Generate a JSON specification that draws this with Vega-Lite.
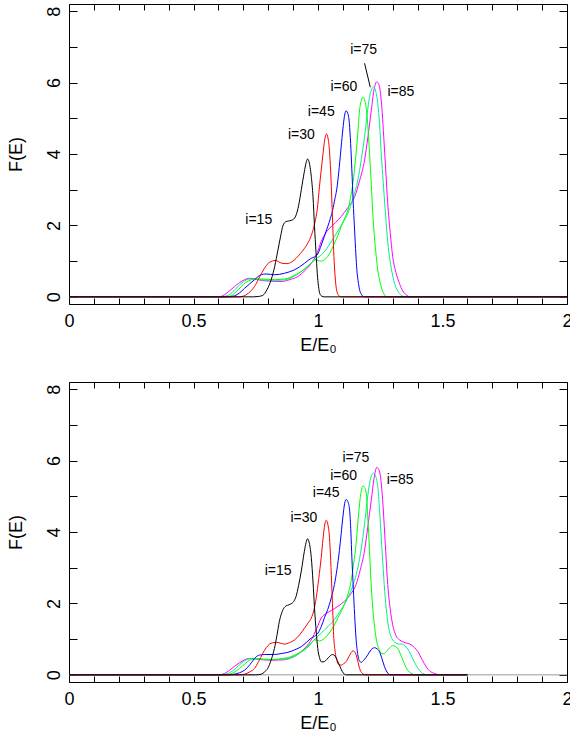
{
"$schema":"https://vega.github.io/schema/vega-lite/v6.json",
"padding":{"left":6,"top":3,"right":0,"bottom":0},
"spacing":78,
"bounds":"flush",
"config":{"view":{"stroke":"black","strokeWidth":1},"font":"Liberation Sans",
"axis":{"labelFont":"Liberation Sans","titleFont":"Liberation Sans","labelFontSize":18,"titleFontSize":18,"titleFontWeight":"normal","labelColor":"black","titleColor":"black","tickColor":"black","tickWidth":1,"ticks":true,"grid":false,"domain":false}},
"datasets":{
"curves":[
{"p":"a","s":"85","E":0,"F":0},{"p":"a","s":"85","E":0.6,"F":0},{"p":"a","s":"85","E":0.625,"F":0.06},{"p":"a","s":"85","E":0.645,"F":0.17},{"p":"a","s":"85","E":0.665,"F":0.29},{"p":"a","s":"85","E":0.685,"F":0.4},{"p":"a","s":"85","E":0.705,"F":0.48},{"p":"a","s":"85","E":0.725,"F":0.52},{"p":"a","s":"85","E":0.75,"F":0.5},{"p":"a","s":"85","E":0.772,"F":0.46},{"p":"a","s":"85","E":0.81,"F":0.44},{"p":"a","s":"85","E":0.852,"F":0.43},{"p":"a","s":"85","E":0.885,"F":0.48},{"p":"a","s":"85","E":0.919,"F":0.57},{"p":"a","s":"85","E":0.945,"F":0.72},{"p":"a","s":"85","E":0.973,"F":0.94},{"p":"a","s":"85","E":0.995,"F":1.2},{"p":"a","s":"85","E":1.013,"F":1.55},{"p":"a","s":"85","E":1.03,"F":1.78},{"p":"a","s":"85","E":1.046,"F":1.92},{"p":"a","s":"85","E":1.07,"F":2.08},{"p":"a","s":"85","E":1.093,"F":2.25},{"p":"a","s":"85","E":1.12,"F":2.5},{"p":"a","s":"85","E":1.147,"F":2.8},{"p":"a","s":"85","E":1.167,"F":3.25},{"p":"a","s":"85","E":1.187,"F":3.83},{"p":"a","s":"85","E":1.2,"F":4.45},{"p":"a","s":"85","E":1.214,"F":5.23},{"p":"a","s":"85","E":1.225,"F":5.8},{"p":"a","s":"85","E":1.236,"F":6.02},{"p":"a","s":"85","E":1.244,"F":5.95},{"p":"a","s":"85","E":1.251,"F":5.7},{"p":"a","s":"85","E":1.258,"F":5.15},{"p":"a","s":"85","E":1.264,"F":4.48},{"p":"a","s":"85","E":1.272,"F":3.55},{"p":"a","s":"85","E":1.28,"F":2.62},{"p":"a","s":"85","E":1.29,"F":1.8},{"p":"a","s":"85","E":1.3,"F":1.13},{"p":"a","s":"85","E":1.313,"F":0.68},{"p":"a","s":"85","E":1.327,"F":0.38},{"p":"a","s":"85","E":1.34,"F":0.17},{"p":"a","s":"85","E":1.354,"F":0.06},{"p":"a","s":"85","E":1.37,"F":0},{"p":"a","s":"85","E":2,"F":0},
{"p":"a","s":"75","E":0,"F":0},{"p":"a","s":"75","E":0.61,"F":0},{"p":"a","s":"75","E":0.635,"F":0.03},{"p":"a","s":"75","E":0.655,"F":0.12},{"p":"a","s":"75","E":0.68,"F":0.3},{"p":"a","s":"75","E":0.7,"F":0.42},{"p":"a","s":"75","E":0.725,"F":0.5},{"p":"a","s":"75","E":0.75,"F":0.5},{"p":"a","s":"75","E":0.78,"F":0.47},{"p":"a","s":"75","E":0.82,"F":0.46},{"p":"a","s":"75","E":0.86,"F":0.47},{"p":"a","s":"75","E":0.9,"F":0.56},{"p":"a","s":"75","E":0.94,"F":0.75},{"p":"a","s":"75","E":0.973,"F":0.95},{"p":"a","s":"75","E":0.995,"F":1.08},{"p":"a","s":"75","E":1.013,"F":1.17},{"p":"a","s":"75","E":1.04,"F":1.4},{"p":"a","s":"75","E":1.066,"F":1.69},{"p":"a","s":"75","E":1.093,"F":2.0},{"p":"a","s":"75","E":1.12,"F":2.34},{"p":"a","s":"75","E":1.14,"F":2.75},{"p":"a","s":"75","E":1.16,"F":3.27},{"p":"a","s":"75","E":1.174,"F":3.85},{"p":"a","s":"75","E":1.187,"F":4.48},{"p":"a","s":"75","E":1.197,"F":5.1},{"p":"a","s":"75","E":1.207,"F":5.6},{"p":"a","s":"75","E":1.215,"F":5.8},{"p":"a","s":"75","E":1.224,"F":5.88},{"p":"a","s":"75","E":1.232,"F":5.75},{"p":"a","s":"75","E":1.24,"F":5.42},{"p":"a","s":"75","E":1.247,"F":4.85},{"p":"a","s":"75","E":1.254,"F":4.02},{"p":"a","s":"75","E":1.262,"F":3.2},{"p":"a","s":"75","E":1.27,"F":2.43},{"p":"a","s":"75","E":1.278,"F":1.7},{"p":"a","s":"75","E":1.287,"F":1.13},{"p":"a","s":"75","E":1.297,"F":0.7},{"p":"a","s":"75","E":1.307,"F":0.38},{"p":"a","s":"75","E":1.32,"F":0.17},{"p":"a","s":"75","E":1.334,"F":0.05},{"p":"a","s":"75","E":1.35,"F":0},{"p":"a","s":"75","E":2,"F":0},
{"p":"a","s":"60","E":0,"F":0},{"p":"a","s":"60","E":0.625,"F":0},{"p":"a","s":"60","E":0.651,"F":0.03},{"p":"a","s":"60","E":0.67,"F":0.13},{"p":"a","s":"60","E":0.692,"F":0.29},{"p":"a","s":"60","E":0.71,"F":0.4},{"p":"a","s":"60","E":0.732,"F":0.48},{"p":"a","s":"60","E":0.752,"F":0.5},{"p":"a","s":"60","E":0.772,"F":0.5},{"p":"a","s":"60","E":0.8,"F":0.49},{"p":"a","s":"60","E":0.825,"F":0.48},{"p":"a","s":"60","E":0.852,"F":0.49},{"p":"a","s":"60","E":0.879,"F":0.52},{"p":"a","s":"60","E":0.905,"F":0.6},{"p":"a","s":"60","E":0.933,"F":0.71},{"p":"a","s":"60","E":0.955,"F":0.83},{"p":"a","s":"60","E":0.973,"F":0.95},{"p":"a","s":"60","E":0.986,"F":1.04},{"p":"a","s":"60","E":1.0,"F":1.02},{"p":"a","s":"60","E":1.013,"F":1.0},{"p":"a","s":"60","E":1.026,"F":1.04},{"p":"a","s":"60","E":1.039,"F":1.13},{"p":"a","s":"60","E":1.053,"F":1.3},{"p":"a","s":"60","E":1.066,"F":1.5},{"p":"a","s":"60","E":1.08,"F":1.72},{"p":"a","s":"60","E":1.093,"F":1.97},{"p":"a","s":"60","E":1.107,"F":2.2},{"p":"a","s":"60","E":1.12,"F":2.43},{"p":"a","s":"60","E":1.13,"F":2.75},{"p":"a","s":"60","E":1.14,"F":3.18},{"p":"a","s":"60","E":1.147,"F":3.6},{"p":"a","s":"60","E":1.153,"F":4.02},{"p":"a","s":"60","E":1.16,"F":4.6},{"p":"a","s":"60","E":1.167,"F":5.23},{"p":"a","s":"60","E":1.174,"F":5.5},{"p":"a","s":"60","E":1.181,"F":5.59},{"p":"a","s":"60","E":1.187,"F":5.52},{"p":"a","s":"60","E":1.193,"F":5.32},{"p":"a","s":"60","E":1.2,"F":4.8},{"p":"a","s":"60","E":1.207,"F":4.02},{"p":"a","s":"60","E":1.214,"F":3.15},{"p":"a","s":"60","E":1.22,"F":2.34},{"p":"a","s":"60","E":1.227,"F":1.65},{"p":"a","s":"60","E":1.234,"F":1.13},{"p":"a","s":"60","E":1.24,"F":0.75},{"p":"a","s":"60","E":1.247,"F":0.48},{"p":"a","s":"60","E":1.254,"F":0.28},{"p":"a","s":"60","E":1.26,"F":0.15},{"p":"a","s":"60","E":1.268,"F":0.05},{"p":"a","s":"60","E":1.278,"F":0},{"p":"a","s":"60","E":2,"F":0},
{"p":"a","s":"45","E":0,"F":0},{"p":"a","s":"45","E":0.64,"F":0},{"p":"a","s":"45","E":0.665,"F":0.03},{"p":"a","s":"45","E":0.685,"F":0.11},{"p":"a","s":"45","E":0.705,"F":0.24},{"p":"a","s":"45","E":0.725,"F":0.36},{"p":"a","s":"45","E":0.745,"F":0.48},{"p":"a","s":"45","E":0.76,"F":0.57},{"p":"a","s":"45","E":0.772,"F":0.62},{"p":"a","s":"45","E":0.792,"F":0.64},{"p":"a","s":"45","E":0.81,"F":0.63},{"p":"a","s":"45","E":0.825,"F":0.62},{"p":"a","s":"45","E":0.845,"F":0.63},{"p":"a","s":"45","E":0.865,"F":0.66},{"p":"a","s":"45","E":0.885,"F":0.7},{"p":"a","s":"45","E":0.906,"F":0.76},{"p":"a","s":"45","E":0.926,"F":0.84},{"p":"a","s":"45","E":0.946,"F":0.94},{"p":"a","s":"45","E":0.96,"F":1.02},{"p":"a","s":"45","E":0.973,"F":1.08},{"p":"a","s":"45","E":0.986,"F":1.12},{"p":"a","s":"45","E":0.999,"F":1.2},{"p":"a","s":"45","E":1.013,"F":1.45},{"p":"a","s":"45","E":1.026,"F":1.7},{"p":"a","s":"45","E":1.039,"F":1.97},{"p":"a","s":"45","E":1.05,"F":2.2},{"p":"a","s":"45","E":1.059,"F":2.43},{"p":"a","s":"45","E":1.068,"F":2.75},{"p":"a","s":"45","E":1.075,"F":3.0},{"p":"a","s":"45","E":1.08,"F":3.27},{"p":"a","s":"45","E":1.087,"F":3.75},{"p":"a","s":"45","E":1.093,"F":4.2},{"p":"a","s":"45","E":1.1,"F":4.7},{"p":"a","s":"45","E":1.106,"F":5.05},{"p":"a","s":"45","E":1.113,"F":5.21},{"p":"a","s":"45","E":1.119,"F":5.15},{"p":"a","s":"45","E":1.126,"F":4.86},{"p":"a","s":"45","E":1.131,"F":4.3},{"p":"a","s":"45","E":1.136,"F":3.55},{"p":"a","s":"45","E":1.141,"F":2.7},{"p":"a","s":"45","E":1.147,"F":1.87},{"p":"a","s":"45","E":1.152,"F":1.2},{"p":"a","s":"45","E":1.156,"F":0.76},{"p":"a","s":"45","E":1.161,"F":0.45},{"p":"a","s":"45","E":1.167,"F":0.2},{"p":"a","s":"45","E":1.174,"F":0.07},{"p":"a","s":"45","E":1.183,"F":0.01},{"p":"a","s":"45","E":1.19,"F":0},{"p":"a","s":"45","E":2,"F":0},
{"p":"a","s":"30","E":0,"F":0},{"p":"a","s":"30","E":0.68,"F":0},{"p":"a","s":"30","E":0.7,"F":0.02},{"p":"a","s":"30","E":0.72,"F":0.1},{"p":"a","s":"30","E":0.745,"F":0.29},{"p":"a","s":"30","E":0.765,"F":0.55},{"p":"a","s":"30","E":0.785,"F":0.8},{"p":"a","s":"30","E":0.8,"F":0.94},{"p":"a","s":"30","E":0.815,"F":1.0},{"p":"a","s":"30","E":0.828,"F":1.02},{"p":"a","s":"30","E":0.84,"F":0.99},{"p":"a","s":"30","E":0.855,"F":0.94},{"p":"a","s":"30","E":0.875,"F":0.93},{"p":"a","s":"30","E":0.895,"F":0.98},{"p":"a","s":"30","E":0.912,"F":1.08},{"p":"a","s":"30","E":0.93,"F":1.22},{"p":"a","s":"30","E":0.946,"F":1.36},{"p":"a","s":"30","E":0.966,"F":1.6},{"p":"a","s":"30","E":0.978,"F":1.82},{"p":"a","s":"30","E":0.988,"F":2.1},{"p":"a","s":"30","E":0.997,"F":2.45},{"p":"a","s":"30","E":1.006,"F":3.1},{"p":"a","s":"30","E":1.013,"F":3.55},{"p":"a","s":"30","E":1.02,"F":4.0},{"p":"a","s":"30","E":1.027,"F":4.4},{"p":"a","s":"30","E":1.034,"F":4.56},{"p":"a","s":"30","E":1.04,"F":4.45},{"p":"a","s":"30","E":1.046,"F":4.1},{"p":"a","s":"30","E":1.051,"F":3.5},{"p":"a","s":"30","E":1.056,"F":2.62},{"p":"a","s":"30","E":1.06,"F":1.85},{"p":"a","s":"30","E":1.064,"F":1.13},{"p":"a","s":"30","E":1.068,"F":0.65},{"p":"a","s":"30","E":1.072,"F":0.32},{"p":"a","s":"30","E":1.078,"F":0.1},{"p":"a","s":"30","E":1.086,"F":0.02},{"p":"a","s":"30","E":1.095,"F":0},{"p":"a","s":"30","E":2,"F":0},
{"p":"a","s":"15","E":0,"F":0},{"p":"a","s":"15","E":0.74,"F":0},{"p":"a","s":"15","E":0.76,"F":0.01},{"p":"a","s":"15","E":0.778,"F":0.04},{"p":"a","s":"15","E":0.795,"F":0.2},{"p":"a","s":"15","E":0.812,"F":0.48},{"p":"a","s":"15","E":0.826,"F":0.85},{"p":"a","s":"15","E":0.839,"F":1.31},{"p":"a","s":"15","E":0.85,"F":1.7},{"p":"a","s":"15","E":0.859,"F":1.99},{"p":"a","s":"15","E":0.872,"F":2.11},{"p":"a","s":"15","E":0.886,"F":2.13},{"p":"a","s":"15","E":0.899,"F":2.16},{"p":"a","s":"15","E":0.912,"F":2.29},{"p":"a","s":"15","E":0.922,"F":2.55},{"p":"a","s":"15","E":0.933,"F":3.0},{"p":"a","s":"15","E":0.945,"F":3.5},{"p":"a","s":"15","E":0.952,"F":3.75},{"p":"a","s":"15","E":0.958,"F":3.86},{"p":"a","s":"15","E":0.964,"F":3.78},{"p":"a","s":"15","E":0.973,"F":3.37},{"p":"a","s":"15","E":0.98,"F":2.8},{"p":"a","s":"15","E":0.986,"F":1.97},{"p":"a","s":"15","E":0.992,"F":1.25},{"p":"a","s":"15","E":0.997,"F":0.66},{"p":"a","s":"15","E":1.002,"F":0.3},{"p":"a","s":"15","E":1.007,"F":0.1},{"p":"a","s":"15","E":1.015,"F":0.02},{"p":"a","s":"15","E":1.025,"F":0},{"p":"a","s":"15","E":2,"F":0},
{"p":"b","s":"85","E":0,"F":0},{"p":"b","s":"85","E":0.6,"F":0},{"p":"b","s":"85","E":0.625,"F":0.04},{"p":"b","s":"85","E":0.645,"F":0.13},{"p":"b","s":"85","E":0.665,"F":0.24},{"p":"b","s":"85","E":0.685,"F":0.34},{"p":"b","s":"85","E":0.705,"F":0.42},{"p":"b","s":"85","E":0.725,"F":0.46},{"p":"b","s":"85","E":0.75,"F":0.45},{"p":"b","s":"85","E":0.78,"F":0.42},{"p":"b","s":"85","E":0.82,"F":0.41},{"p":"b","s":"85","E":0.86,"F":0.42},{"p":"b","s":"85","E":0.9,"F":0.5},{"p":"b","s":"85","E":0.94,"F":0.7},{"p":"b","s":"85","E":0.973,"F":0.98},{"p":"b","s":"85","E":0.995,"F":1.3},{"p":"b","s":"85","E":1.013,"F":1.59},{"p":"b","s":"85","E":1.033,"F":1.72},{"p":"b","s":"85","E":1.053,"F":1.8},{"p":"b","s":"85","E":1.08,"F":1.92},{"p":"b","s":"85","E":1.106,"F":2.06},{"p":"b","s":"85","E":1.13,"F":2.25},{"p":"b","s":"85","E":1.153,"F":2.53},{"p":"b","s":"85","E":1.17,"F":2.95},{"p":"b","s":"85","E":1.187,"F":3.48},{"p":"b","s":"85","E":1.2,"F":4.15},{"p":"b","s":"85","E":1.214,"F":4.89},{"p":"b","s":"85","E":1.225,"F":5.5},{"p":"b","s":"85","E":1.236,"F":5.81},{"p":"b","s":"85","E":1.244,"F":5.75},{"p":"b","s":"85","E":1.251,"F":5.55},{"p":"b","s":"85","E":1.258,"F":5.05},{"p":"b","s":"85","E":1.264,"F":4.42},{"p":"b","s":"85","E":1.272,"F":3.45},{"p":"b","s":"85","E":1.28,"F":2.53},{"p":"b","s":"85","E":1.29,"F":1.85},{"p":"b","s":"85","E":1.3,"F":1.4},{"p":"b","s":"85","E":1.313,"F":1.1},{"p":"b","s":"85","E":1.327,"F":0.98},{"p":"b","s":"85","E":1.34,"F":0.93},{"p":"b","s":"85","E":1.354,"F":0.89},{"p":"b","s":"85","E":1.367,"F":0.87},{"p":"b","s":"85","E":1.374,"F":0.84},{"p":"b","s":"85","E":1.388,"F":0.76},{"p":"b","s":"85","E":1.401,"F":0.65},{"p":"b","s":"85","E":1.418,"F":0.43},{"p":"b","s":"85","E":1.434,"F":0.23},{"p":"b","s":"85","E":1.45,"F":0.1},{"p":"b","s":"85","E":1.468,"F":0.04},{"p":"b","s":"85","E":1.49,"F":0},{"p":"b","s":"85","E":1.6,"F":0},
{"p":"b","s":"75","E":0,"F":0},{"p":"b","s":"75","E":0.61,"F":0},{"p":"b","s":"75","E":0.635,"F":0.03},{"p":"b","s":"75","E":0.655,"F":0.1},{"p":"b","s":"75","E":0.68,"F":0.25},{"p":"b","s":"75","E":0.7,"F":0.37},{"p":"b","s":"75","E":0.725,"F":0.45},{"p":"b","s":"75","E":0.75,"F":0.46},{"p":"b","s":"75","E":0.78,"F":0.44},{"p":"b","s":"75","E":0.82,"F":0.43},{"p":"b","s":"75","E":0.86,"F":0.44},{"p":"b","s":"75","E":0.9,"F":0.5},{"p":"b","s":"75","E":0.94,"F":0.68},{"p":"b","s":"75","E":0.973,"F":0.9},{"p":"b","s":"75","E":0.995,"F":1.05},{"p":"b","s":"75","E":1.013,"F":1.17},{"p":"b","s":"75","E":1.04,"F":1.35},{"p":"b","s":"75","E":1.066,"F":1.55},{"p":"b","s":"75","E":1.093,"F":1.83},{"p":"b","s":"75","E":1.12,"F":2.16},{"p":"b","s":"75","E":1.14,"F":2.5},{"p":"b","s":"75","E":1.16,"F":3.0},{"p":"b","s":"75","E":1.174,"F":3.55},{"p":"b","s":"75","E":1.187,"F":4.23},{"p":"b","s":"75","E":1.197,"F":4.85},{"p":"b","s":"75","E":1.207,"F":5.36},{"p":"b","s":"75","E":1.215,"F":5.58},{"p":"b","s":"75","E":1.224,"F":5.65},{"p":"b","s":"75","E":1.232,"F":5.55},{"p":"b","s":"75","E":1.24,"F":5.27},{"p":"b","s":"75","E":1.247,"F":4.65},{"p":"b","s":"75","E":1.254,"F":3.85},{"p":"b","s":"75","E":1.262,"F":2.95},{"p":"b","s":"75","E":1.27,"F":2.16},{"p":"b","s":"75","E":1.278,"F":1.6},{"p":"b","s":"75","E":1.287,"F":1.22},{"p":"b","s":"75","E":1.3,"F":0.98},{"p":"b","s":"75","E":1.314,"F":0.89},{"p":"b","s":"75","E":1.328,"F":0.86},{"p":"b","s":"75","E":1.341,"F":0.86},{"p":"b","s":"75","E":1.354,"F":0.78},{"p":"b","s":"75","E":1.367,"F":0.65},{"p":"b","s":"75","E":1.38,"F":0.46},{"p":"b","s":"75","E":1.394,"F":0.27},{"p":"b","s":"75","E":1.408,"F":0.12},{"p":"b","s":"75","E":1.421,"F":0.04},{"p":"b","s":"75","E":1.44,"F":0},{"p":"b","s":"75","E":1.6,"F":0},
{"p":"b","s":"60","E":0,"F":0},{"p":"b","s":"60","E":0.625,"F":0},{"p":"b","s":"60","E":0.651,"F":0.03},{"p":"b","s":"60","E":0.668,"F":0.09},{"p":"b","s":"60","E":0.685,"F":0.18},{"p":"b","s":"60","E":0.705,"F":0.3},{"p":"b","s":"60","E":0.725,"F":0.41},{"p":"b","s":"60","E":0.742,"F":0.44},{"p":"b","s":"60","E":0.758,"F":0.44},{"p":"b","s":"60","E":0.79,"F":0.43},{"p":"b","s":"60","E":0.825,"F":0.43},{"p":"b","s":"60","E":0.86,"F":0.46},{"p":"b","s":"60","E":0.892,"F":0.51},{"p":"b","s":"60","E":0.92,"F":0.6},{"p":"b","s":"60","E":0.946,"F":0.7},{"p":"b","s":"60","E":0.966,"F":0.82},{"p":"b","s":"60","E":0.986,"F":0.98},{"p":"b","s":"60","E":0.996,"F":0.97},{"p":"b","s":"60","E":1.006,"F":0.95},{"p":"b","s":"60","E":1.02,"F":0.99},{"p":"b","s":"60","E":1.033,"F":1.07},{"p":"b","s":"60","E":1.05,"F":1.22},{"p":"b","s":"60","E":1.066,"F":1.4},{"p":"b","s":"60","E":1.086,"F":1.68},{"p":"b","s":"60","E":1.106,"F":1.97},{"p":"b","s":"60","E":1.12,"F":2.25},{"p":"b","s":"60","E":1.133,"F":2.63},{"p":"b","s":"60","E":1.143,"F":3.1},{"p":"b","s":"60","E":1.153,"F":3.67},{"p":"b","s":"60","E":1.16,"F":4.25},{"p":"b","s":"60","E":1.167,"F":4.8},{"p":"b","s":"60","E":1.174,"F":5.15},{"p":"b","s":"60","E":1.18,"F":5.29},{"p":"b","s":"60","E":1.187,"F":5.25},{"p":"b","s":"60","E":1.194,"F":5.08},{"p":"b","s":"60","E":1.2,"F":4.4},{"p":"b","s":"60","E":1.207,"F":3.48},{"p":"b","s":"60","E":1.213,"F":2.6},{"p":"b","s":"60","E":1.22,"F":1.87},{"p":"b","s":"60","E":1.228,"F":1.3},{"p":"b","s":"60","E":1.236,"F":0.93},{"p":"b","s":"60","E":1.245,"F":0.72},{"p":"b","s":"60","E":1.254,"F":0.6},{"p":"b","s":"60","E":1.264,"F":0.59},{"p":"b","s":"60","E":1.274,"F":0.65},{"p":"b","s":"60","E":1.287,"F":0.75},{"p":"b","s":"60","E":1.3,"F":0.82},{"p":"b","s":"60","E":1.31,"F":0.8},{"p":"b","s":"60","E":1.32,"F":0.74},{"p":"b","s":"60","E":1.33,"F":0.6},{"p":"b","s":"60","E":1.341,"F":0.41},{"p":"b","s":"60","E":1.354,"F":0.2},{"p":"b","s":"60","E":1.367,"F":0.08},{"p":"b","s":"60","E":1.38,"F":0.02},{"p":"b","s":"60","E":1.39,"F":0},{"p":"b","s":"60","E":1.6,"F":0},
{"p":"b","s":"45","E":0,"F":0},{"p":"b","s":"45","E":0.64,"F":0},{"p":"b","s":"45","E":0.665,"F":0.02},{"p":"b","s":"45","E":0.685,"F":0.06},{"p":"b","s":"45","E":0.705,"F":0.13},{"p":"b","s":"45","E":0.728,"F":0.3},{"p":"b","s":"45","E":0.752,"F":0.51},{"p":"b","s":"45","E":0.77,"F":0.56},{"p":"b","s":"45","E":0.785,"F":0.57},{"p":"b","s":"45","E":0.825,"F":0.57},{"p":"b","s":"45","E":0.855,"F":0.6},{"p":"b","s":"45","E":0.879,"F":0.63},{"p":"b","s":"45","E":0.906,"F":0.7},{"p":"b","s":"45","E":0.933,"F":0.79},{"p":"b","s":"45","E":0.955,"F":0.92},{"p":"b","s":"45","E":0.973,"F":1.03},{"p":"b","s":"45","E":0.986,"F":1.08},{"p":"b","s":"45","E":1.0,"F":1.17},{"p":"b","s":"45","E":1.013,"F":1.35},{"p":"b","s":"45","E":1.026,"F":1.6},{"p":"b","s":"45","E":1.039,"F":1.83},{"p":"b","s":"45","E":1.053,"F":2.15},{"p":"b","s":"45","E":1.066,"F":2.53},{"p":"b","s":"45","E":1.076,"F":2.95},{"p":"b","s":"45","E":1.086,"F":3.48},{"p":"b","s":"45","E":1.093,"F":3.95},{"p":"b","s":"45","E":1.1,"F":4.42},{"p":"b","s":"45","E":1.107,"F":4.8},{"p":"b","s":"45","E":1.113,"F":4.91},{"p":"b","s":"45","E":1.12,"F":4.85},{"p":"b","s":"45","E":1.127,"F":4.61},{"p":"b","s":"45","E":1.132,"F":4.0},{"p":"b","s":"45","E":1.136,"F":3.29},{"p":"b","s":"45","E":1.142,"F":2.4},{"p":"b","s":"45","E":1.147,"F":1.69},{"p":"b","s":"45","E":1.153,"F":1.0},{"p":"b","s":"45","E":1.16,"F":0.56},{"p":"b","s":"45","E":1.166,"F":0.4},{"p":"b","s":"45","E":1.173,"F":0.35},{"p":"b","s":"45","E":1.185,"F":0.42},{"p":"b","s":"45","E":1.2,"F":0.56},{"p":"b","s":"45","E":1.213,"F":0.7},{"p":"b","s":"45","E":1.227,"F":0.76},{"p":"b","s":"45","E":1.237,"F":0.73},{"p":"b","s":"45","E":1.247,"F":0.65},{"p":"b","s":"45","E":1.257,"F":0.45},{"p":"b","s":"45","E":1.267,"F":0.23},{"p":"b","s":"45","E":1.277,"F":0.08},{"p":"b","s":"45","E":1.29,"F":0},{"p":"b","s":"45","E":1.6,"F":0},
{"p":"b","s":"30","E":0,"F":0},{"p":"b","s":"30","E":0.68,"F":0},{"p":"b","s":"30","E":0.705,"F":0.02},{"p":"b","s":"30","E":0.725,"F":0.08},{"p":"b","s":"30","E":0.745,"F":0.18},{"p":"b","s":"30","E":0.762,"F":0.38},{"p":"b","s":"30","E":0.778,"F":0.6},{"p":"b","s":"30","E":0.792,"F":0.76},{"p":"b","s":"30","E":0.805,"F":0.86},{"p":"b","s":"30","E":0.818,"F":0.9},{"p":"b","s":"30","E":0.832,"F":0.91},{"p":"b","s":"30","E":0.848,"F":0.89},{"p":"b","s":"30","E":0.865,"F":0.86},{"p":"b","s":"30","E":0.885,"F":0.9},{"p":"b","s":"30","E":0.906,"F":0.98},{"p":"b","s":"30","E":0.926,"F":1.12},{"p":"b","s":"30","E":0.946,"F":1.31},{"p":"b","s":"30","E":0.96,"F":1.45},{"p":"b","s":"30","E":0.973,"F":1.59},{"p":"b","s":"30","E":0.983,"F":1.8},{"p":"b","s":"30","E":0.993,"F":2.16},{"p":"b","s":"30","E":1.003,"F":2.7},{"p":"b","s":"30","E":1.013,"F":3.29},{"p":"b","s":"30","E":1.02,"F":3.8},{"p":"b","s":"30","E":1.027,"F":4.2},{"p":"b","s":"30","E":1.033,"F":4.33},{"p":"b","s":"30","E":1.04,"F":4.2},{"p":"b","s":"30","E":1.046,"F":3.85},{"p":"b","s":"30","E":1.051,"F":3.2},{"p":"b","s":"30","E":1.056,"F":2.35},{"p":"b","s":"30","E":1.06,"F":1.65},{"p":"b","s":"30","E":1.063,"F":1.1},{"p":"b","s":"30","E":1.068,"F":0.7},{"p":"b","s":"30","E":1.077,"F":0.37},{"p":"b","s":"30","E":1.085,"F":0.28},{"p":"b","s":"30","E":1.093,"F":0.27},{"p":"b","s":"30","E":1.103,"F":0.31},{"p":"b","s":"30","E":1.113,"F":0.37},{"p":"b","s":"30","E":1.127,"F":0.55},{"p":"b","s":"30","E":1.14,"F":0.67},{"p":"b","s":"30","E":1.147,"F":0.65},{"p":"b","s":"30","E":1.153,"F":0.56},{"p":"b","s":"30","E":1.16,"F":0.38},{"p":"b","s":"30","E":1.167,"F":0.18},{"p":"b","s":"30","E":1.177,"F":0.05},{"p":"b","s":"30","E":1.19,"F":0},{"p":"b","s":"30","E":1.6,"F":0},
{"p":"b","s":"15","E":0,"F":0},{"p":"b","s":"15","E":0.75,"F":0},{"p":"b","s":"15","E":0.772,"F":0.02},{"p":"b","s":"15","E":0.785,"F":0.08},{"p":"b","s":"15","E":0.798,"F":0.18},{"p":"b","s":"15","E":0.812,"F":0.42},{"p":"b","s":"15","E":0.825,"F":0.74},{"p":"b","s":"15","E":0.835,"F":1.1},{"p":"b","s":"15","E":0.845,"F":1.5},{"p":"b","s":"15","E":0.855,"F":1.75},{"p":"b","s":"15","E":0.865,"F":1.89},{"p":"b","s":"15","E":0.878,"F":1.95},{"p":"b","s":"15","E":0.892,"F":1.99},{"p":"b","s":"15","E":0.903,"F":2.06},{"p":"b","s":"15","E":0.912,"F":2.2},{"p":"b","s":"15","E":0.922,"F":2.5},{"p":"b","s":"15","E":0.933,"F":2.91},{"p":"b","s":"15","E":0.945,"F":3.45},{"p":"b","s":"15","E":0.952,"F":3.7},{"p":"b","s":"15","E":0.958,"F":3.81},{"p":"b","s":"15","E":0.964,"F":3.72},{"p":"b","s":"15","E":0.973,"F":3.29},{"p":"b","s":"15","E":0.98,"F":2.6},{"p":"b","s":"15","E":0.986,"F":1.87},{"p":"b","s":"15","E":0.993,"F":1.2},{"p":"b","s":"15","E":0.999,"F":0.74},{"p":"b","s":"15","E":1.006,"F":0.48},{"p":"b","s":"15","E":1.015,"F":0.36},{"p":"b","s":"15","E":1.025,"F":0.37},{"p":"b","s":"15","E":1.035,"F":0.43},{"p":"b","s":"15","E":1.047,"F":0.52},{"p":"b","s":"15","E":1.059,"F":0.57},{"p":"b","s":"15","E":1.068,"F":0.53},{"p":"b","s":"15","E":1.078,"F":0.4},{"p":"b","s":"15","E":1.087,"F":0.25},{"p":"b","s":"15","E":1.097,"F":0.1},{"p":"b","s":"15","E":1.106,"F":0.02},{"p":"b","s":"15","E":1.115,"F":0},{"p":"b","s":"15","E":1.6,"F":0}
],
"labels":[
{"p":"a","t":"i=15","E":0.762,"F":2.15},{"p":"a","t":"i=30","E":0.933,"F":4.54},{"p":"a","t":"i=45","E":1.013,"F":5.18},{"p":"a","t":"i=60","E":1.104,"F":5.88},{"p":"a","t":"i=75","E":1.183,"F":6.91},{"p":"a","t":"i=85","E":1.333,"F":5.74},
{"p":"b","t":"i=15","E":0.84,"F":2.91},{"p":"b","t":"i=30","E":0.943,"F":4.4},{"p":"b","t":"i=45","E":1.033,"F":5.09},{"p":"b","t":"i=60","E":1.103,"F":5.56},{"p":"b","t":"i=75","E":1.152,"F":6.06},{"p":"b","t":"i=85","E":1.33,"F":5.47}
],
"pointer":[{"E":1.187,"F":6.54,"E2":1.21,"F2":5.87}],
"base":[{"E":0,"E2":2,"F":0}]
},
"vconcat":[
{"width":498,"height":300,
"layer":[
{"data":{"name":"curves"},"transform":[{"filter":"datum.p == 'a'"}],
"mark":{"type":"line","strokeWidth":1,"interpolate":"monotone"},
"encoding":{
"x":{"field":"E","type":"quantitative","scale":{"domain":[0,2],"nice":false,"zero":false},
"axis":{"orient":"bottom","values":[0,0.1,0.2,0.3,0.4,0.5,0.6,0.7,0.8,0.9,1,1.1,1.2,1.3,1.4,1.5,1.6,1.7,1.8,1.9,2],"format":"~g","labelExpr":"abs(datum.value*2 - round(datum.value*2)) < 0.01 ? datum.label : ''","offset":-6,"tickSize":6,"labelPadding":8,"labelFlush":false,"labelOverlap":false,"title":"E/E₀","titlePadding":6}},
"y":{"field":"F","type":"quantitative","scale":{"domain":[-0.2,8.2],"nice":false,"zero":false},
"axis":{"orient":"left","values":[0,1,2,3,4,5,6,7,8],"labelExpr":"datum.value % 2 == 0 ? datum.label : ''","offset":-8,"tickSize":8,"labelPadding":10,"labelAngle":-90,"labelAlign":"center","labelBaseline":"alphabetic","labelOverlap":false,"title":"F(E)","titlePadding":20}},
"color":{"field":"s","type":"nominal","scale":{"domain":["85","75","60","45","30","15"],"range":["#ff00ff","#00f090","#00ff00","#0000ff","#ff0000","#000000"]},"legend":null},
"order":{"field":"E","type":"quantitative"}
}},
{"data":{"name":"labels"},"transform":[{"filter":"datum.p == 'a'"}],
"mark":{"type":"text","fontSize":14,"font":"Liberation Sans","align":"center","baseline":"middle","color":"black"},
"encoding":{
"x":{"field":"E","type":"quantitative","scale":{"domain":[0,2],"nice":false,"zero":false},"axis":{"orient":"top","values":[0,0.1,0.2,0.3,0.4,0.5,0.6,0.7,0.8,0.9,1,1.1,1.2,1.3,1.4,1.5,1.6,1.7,1.8,1.9,2],"labels":false,"offset":-6,"tickSize":6,"title":null}},
"y":{"field":"F","type":"quantitative","scale":{"domain":[-0.2,8.2],"nice":false,"zero":false},"axis":{"orient":"right","values":[0,1,2,3,4,5,6,7,8],"labels":false,"offset":-8,"tickSize":8,"title":null}},
"text":{"field":"t"}
}},
{"data":{"name":"pointer"},"mark":{"type":"rule","strokeWidth":1,"color":"black"},
"encoding":{
"x":{"field":"E","type":"quantitative","scale":{"domain":[0,2],"nice":false,"zero":false},"axis":null},
"y":{"field":"F","type":"quantitative","scale":{"domain":[-0.2,8.2],"nice":false,"zero":false},"axis":null},
"x2":{"field":"E2"},"y2":{"field":"F2"}
}}
],
"resolve":{"axis":{"x":"independent","y":"independent"}}
},
{"width":498,"height":300,
"layer":[
{"data":{"name":"base"},"mark":{"type":"rule","strokeWidth":1,"color":"#999999"},
"encoding":{
"x":{"field":"E","type":"quantitative","scale":{"domain":[0,2],"nice":false,"zero":false},"axis":null},
"y":{"field":"F","type":"quantitative","scale":{"domain":[-0.2,8.2],"nice":false,"zero":false},"axis":null},
"x2":{"field":"E2"}
}},
{"data":{"name":"curves"},"transform":[{"filter":"datum.p == 'b'"}],
"mark":{"type":"line","strokeWidth":1,"interpolate":"monotone"},
"encoding":{
"x":{"field":"E","type":"quantitative","scale":{"domain":[0,2],"nice":false,"zero":false},
"axis":{"orient":"bottom","values":[0,0.1,0.2,0.3,0.4,0.5,0.6,0.7,0.8,0.9,1,1.1,1.2,1.3,1.4,1.5,1.6,1.7,1.8,1.9,2],"format":"~g","labelExpr":"abs(datum.value*2 - round(datum.value*2)) < 0.01 ? datum.label : ''","offset":-6,"tickSize":6,"labelPadding":8,"labelFlush":false,"labelOverlap":false,"title":"E/E₀","titlePadding":6}},
"y":{"field":"F","type":"quantitative","scale":{"domain":[-0.2,8.2],"nice":false,"zero":false},
"axis":{"orient":"left","values":[0,1,2,3,4,5,6,7,8],"labelExpr":"datum.value % 2 == 0 ? datum.label : ''","offset":-8,"tickSize":8,"labelPadding":10,"labelAngle":-90,"labelAlign":"center","labelBaseline":"alphabetic","labelOverlap":false,"title":"F(E)","titlePadding":20}},
"color":{"field":"s","type":"nominal","scale":{"domain":["85","75","60","45","30","15"],"range":["#ff00ff","#00f090","#00ff00","#0000ff","#ff0000","#000000"]},"legend":null},
"order":{"field":"E","type":"quantitative"}
}},
{"data":{"name":"labels"},"transform":[{"filter":"datum.p == 'b'"}],
"mark":{"type":"text","fontSize":14,"font":"Liberation Sans","align":"center","baseline":"middle","color":"black"},
"encoding":{
"x":{"field":"E","type":"quantitative","scale":{"domain":[0,2],"nice":false,"zero":false},"axis":{"orient":"top","values":[0,0.1,0.2,0.3,0.4,0.5,0.6,0.7,0.8,0.9,1,1.1,1.2,1.3,1.4,1.5,1.6,1.7,1.8,1.9,2],"labels":false,"offset":-6,"tickSize":6,"title":null}},
"y":{"field":"F","type":"quantitative","scale":{"domain":[-0.2,8.2],"nice":false,"zero":false},"axis":{"orient":"right","values":[0,1,2,3,4,5,6,7,8],"labels":false,"offset":-8,"tickSize":8,"title":null}},
"text":{"field":"t"}
}}
],
"resolve":{"axis":{"x":"independent","y":"independent"}}
}
]
}
